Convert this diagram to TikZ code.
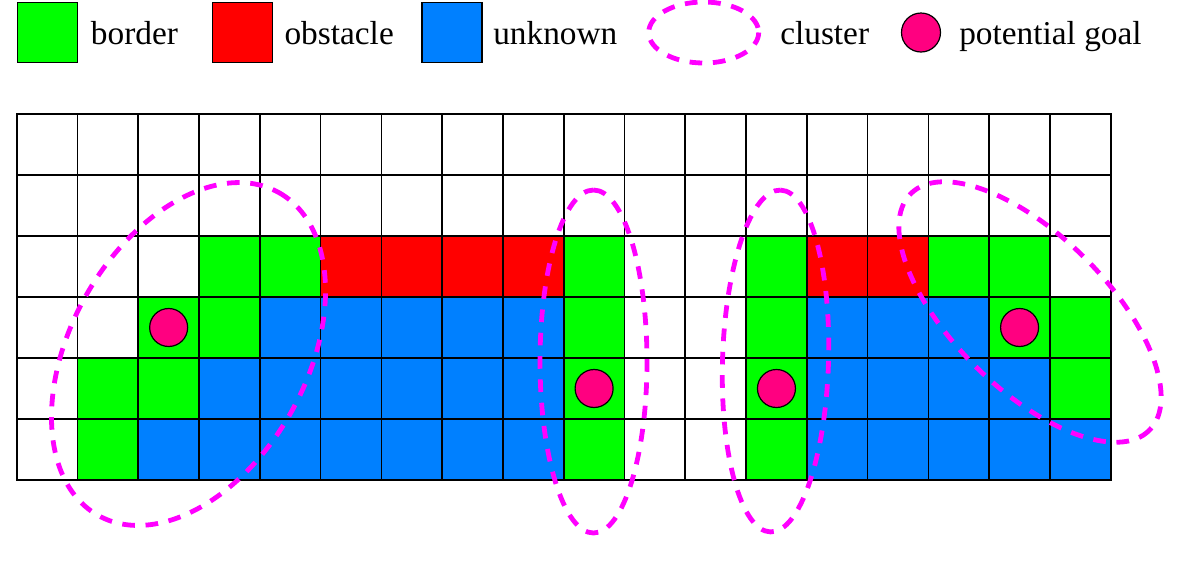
\documentclass[tikz,border=0pt]{standalone}
\usepackage{fontspec}
\setmainfont{Liberation Serif}
\definecolor{bordergreen}{RGB}{0,255,0}
\definecolor{obsred}{RGB}{255,0,0}
\definecolor{unkblue}{RGB}{0,128,255}
\definecolor{clustermag}{RGB}{255,0,255}
\definecolor{goalpink}{RGB}{255,0,128}
\begin{document}
\begin{tikzpicture}[x=0.75pt,y=-0.75pt,
  gridline/.style={draw=black, line width=1.3pt, line cap=rect},
  goal/.style={circle, draw=black, line width=0.9pt, fill=goalpink, minimum size=28.5pt, inner sep=0pt},
  legsq/.style={draw=black, line width=1pt, minimum size=45pt, inner sep=0pt},
  legtext/.style={anchor=base west, inner sep=0pt, font=\fontsize{25}{30}\selectfont},
  clusterline/.style={draw=clustermag, line width=3.6pt, dash pattern=on 9.5pt off 8pt},
]
\def\cw{60.78}
\def\rh{61}
\def\gx{16.7}
\def\gy{114}
\fill[white] (0,0) rectangle (1196,569);
\useasboundingbox (0,0) rectangle (1196,569);

% legend
\node[legsq, fill=bordergreen] (lg) at (47.2,32.5) {};
\node[legtext] (lgt) at (90.7,44.3) {border};
\node[legsq, fill=obsred] (lr) at (242.2,32.5) {};
\node[legtext] (lrt) at (284.3,44.3) {obstacle};
\node[legsq, fill=unkblue] (lb) at (452,32.5) {};
\node[legtext] (lbt) at (493,44.3) {unknown};
\draw[clusterline] (703.7,32.5) ellipse [x radius=55, y radius=30.5];
\coordinate (lc) at (703.7,32.5);
\node[legtext] (lct) at (780,44.3) {cluster};
\node[goal, minimum size=29.25pt] (lp) at (921,32.5) {};
\node[legtext] (lpt) at (959,44.3) {potential goal};

% cells
\foreach \c/\r in {3/2,4/2,9/2,12/2,15/2,16/2,2/3,3/3,9/3,12/3,16/3,17/3,1/4,2/4,9/4,12/4,17/4,1/5,9/5,12/5}
  \fill[bordergreen] ({\gx+\c*\cw},{\gy+\r*\rh}) rectangle ++(\cw,\rh);
\foreach \c/\r in {5/2,6/2,7/2,8/2,13/2,14/2}
  \fill[obsred] ({\gx+\c*\cw},{\gy+\r*\rh}) rectangle ++(\cw,\rh);
\foreach \c/\r in {4/3,5/3,6/3,7/3,8/3,13/3,14/3,15/3,
                   3/4,4/4,5/4,6/4,7/4,8/4,13/4,14/4,15/4,16/4,
                   2/5,3/5,4/5,5/5,6/5,7/5,8/5,13/5,14/5,15/5,16/5,17/5}
  \fill[unkblue] ({\gx+\c*\cw},{\gy+\r*\rh}) rectangle ++(\cw,\rh);

% grid lines
\foreach \i in {0,...,18}
  \draw[gridline] ({\gx+\i*\cw},\gy) -- ({\gx+\i*\cw},{\gy+6*\rh});
\foreach \j in {0,...,6}
  \draw[gridline] (\gx,{\gy+\j*\rh}) -- ({\gx+18*\cw},{\gy+\j*\rh});

% potential goals
\node[goal] (g1) at ({\gx+2.5*\cw},{\gy+3.5*\rh}) {};
\node[goal] (g2) at ({\gx+9.5*\cw},{\gy+4.5*\rh}) {};
\node[goal] (g3) at ({\gx+12.5*\cw},{\gy+4.5*\rh}) {};
\node[goal] (g4) at ({\gx+16.5*\cw},{\gy+3.5*\rh}) {};

% clusters
\draw[clusterline, rotate around={60.75:(188.5,354)}] (188.5,354) ellipse [x radius=185, y radius=118];
\draw[clusterline, rotate around={90:(593.5,361.5)}] (593.5,361.5) ellipse [x radius=171.5, y radius=53.5];
\draw[clusterline, rotate around={88.3:(775.5,361)}] (775.5,361) ellipse [x radius=171, y radius=53];
\draw[clusterline, rotate around={-44.7:(1030,312)}] (1030,312) ellipse [x radius=168, y radius=77];
\end{tikzpicture}
\end{document}
